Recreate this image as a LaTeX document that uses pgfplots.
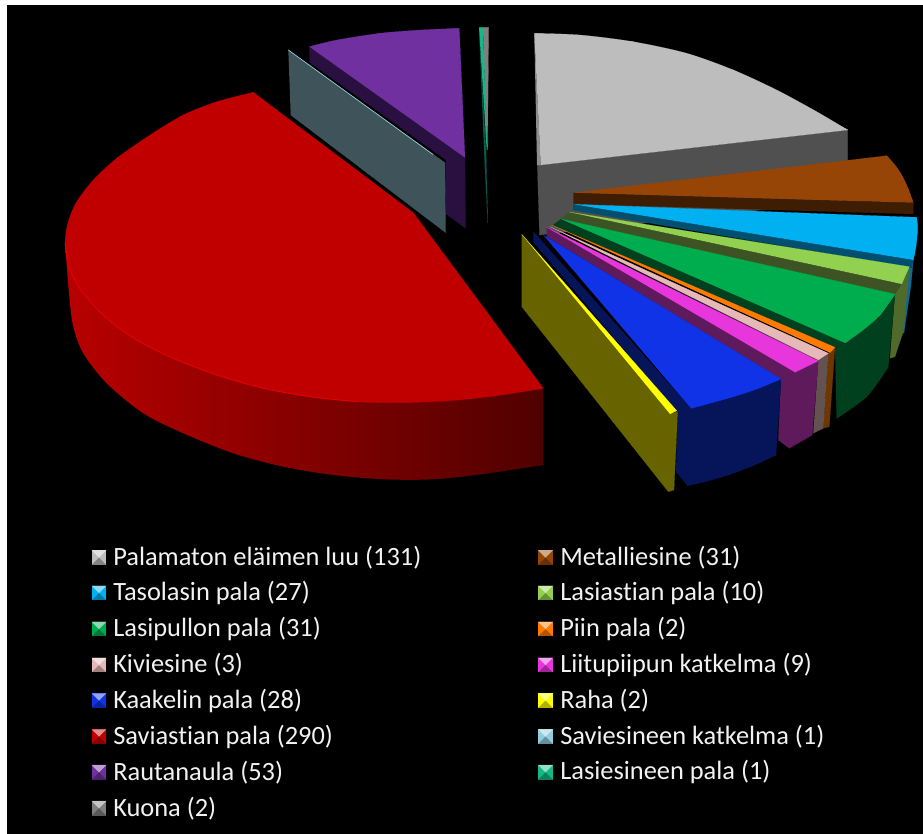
\documentclass[border=0pt]{standalone}
\usepackage{fontspec}
\setmainfont[Ligatures=NoCommon]{Carlito}
\usepackage{pgfplots}
\pgfplotsset{compat=1.18}

% all shapes are polygons in reference pixel coordinates
% \arccap fills a smoothed arc closed by its chord, the slice polygon goes on top of it
\newcommand\poly[2]{\addplot[fill=#1,draw=#1,line width=0.1pt,line join=round] coordinates {#2};}
\newcommand\arccap[2]{\addplot[smooth,fill=#1,draw=#1,line width=0.1pt] coordinates {#2};}
\newcommand\legtext[3]{\node[anchor=west,text=legtxt,inner sep=0pt,font=\fontsize{19.8}{22}\selectfont] at (axis cs:#1,#2) {#3};}
\newcommand\legkey[3]{\addplot[only marks,mark=bev,mark size=5.6pt,mark options={fill=#3,draw=none}] coordinates {(#1,#2)};}

\pgfdeclareplotmark{bev}{%
  \pgfpathrectangle{\pgfpoint{-\pgfplotmarksize}{-\pgfplotmarksize}}{\pgfpoint{2\pgfplotmarksize}{2\pgfplotmarksize}}%
  \pgfusepathqfill
  \begin{pgfscope}
    \pgfsetfillcolor{white}\pgfsetfillopacity{0.55}%
    \pgfpathmoveto{\pgfpoint{-\pgfplotmarksize}{\pgfplotmarksize}}%
    \pgfpathlineto{\pgfpoint{\pgfplotmarksize}{\pgfplotmarksize}}%
    \pgfpathlineto{\pgfpoint{0pt}{0pt}}\pgfpathclose
    \pgfusepathqfill
  \end{pgfscope}
  \begin{pgfscope}
    \pgfsetfillcolor{black}\pgfsetfillopacity{0.3}%
    \pgfpathmoveto{\pgfpoint{-\pgfplotmarksize}{-\pgfplotmarksize}}%
    \pgfpathlineto{\pgfpoint{\pgfplotmarksize}{-\pgfplotmarksize}}%
    \pgfpathlineto{\pgfpoint{0pt}{0pt}}\pgfpathclose
    \pgfusepathqfill
  \end{pgfscope}
}

\definecolor{legtxt}{HTML}{F2F2F2}
\definecolor{bone}{HTML}{BDBDBD}
\definecolor{boneside}{HTML}{505050}
\definecolor{bonefringe}{HTML}{8E8E8E}
\definecolor{metal}{HTML}{964506}
\definecolor{metalside}{HTML}{3F1D03}
\definecolor{taso}{HTML}{00B0F0}
\definecolor{tasoside}{HTML}{004F6E}
\definecolor{tasoout}{HTML}{0F6A94}
\definecolor{lasi}{HTML}{92D050}
\definecolor{lasiside}{HTML}{3E5323}
\definecolor{lasiout}{HTML}{4F6A2A}
\definecolor{pullo}{HTML}{00AD4E}
\definecolor{pulloside}{HTML}{00401E}
\definecolor{piin}{HTML}{FF7A00}
\definecolor{piinside}{HTML}{6E3600}
\definecolor{kivi}{HTML}{E6B9B8}
\definecolor{kiviside}{HTML}{63524F}
\definecolor{liitu}{HTML}{E636DC}
\definecolor{liituside}{HTML}{5E1A5A}
\definecolor{kaakeli}{HTML}{1033E8}
\definecolor{kaakeliside}{HTML}{06145A}
\definecolor{raha}{HTML}{FFFF00}
\definecolor{rahaside}{HTML}{676400}
\definecolor{savi}{HTML}{C00000}
\definecolor{saviline}{HTML}{E80000}
\definecolor{savisideL}{HTML}{B80000}
\definecolor{savisideR}{HTML}{500000}
\definecolor{saviesine}{HTML}{93CDDD}
\definecolor{saviesineside}{HTML}{3E545A}
\definecolor{rauta}{HTML}{7030A0}
\definecolor{rautaside}{HTML}{2A1040}
\definecolor{lasiesine}{HTML}{14B887}
\definecolor{lasiesineside}{HTML}{0A5C4A}
\definecolor{kuona}{HTML}{7F7F7F}

\begin{document}
\begin{tikzpicture}
\begin{axis}[
    scale only axis,
    width=692.25pt, height=624.75pt,
    xmin=0, xmax=923, ymin=0, ymax=833,
    y dir=reverse,
    hide axis,
]
% page and black panel
\poly{white}{(0,0) (923,0) (923,833) (0,833)}
\poly{black}{(7,5) (923,5) (923,833) (7,833)}

% Palamaton elaimen luu
\poly{boneside}{(540.7,165) (847.7,130) (847.7,200) (539.5,235) (537.3,165)}
\poly{bonefringe}{(534.3,33.3) (540.7,165) (537,165)}
\arccap{bone}{(534.3,33.3) (580,35) (633,41.7) (686.7,53.3) (733.3,70) (776.7,90) (816.7,111.7) (847.7,130)}
\poly{bone}{(534.3,33.3) (633,41.7) (733.3,70) (847.7,130) (540.7,165)}
% Metalliesine
\poly{metalside}{(573.3,192.7) (913.3,202.7) (913.3,214) (573.3,204)}
\arccap{metal}{(886.7,155.7) (895,165) (901.7,175) (908,188) (913.3,202.7)}
\poly{metal}{(573.3,192.7) (886.7,155.7) (901.7,175) (913.3,202.7)}
% Tasolasin pala
\poly{tasoout}{(913.3,260) (911,285) (904,333) (895,333) (895,270)}
\poly{tasoside}{(573.3,204) (913.3,260) (911.7,268) (572.7,210)}
\arccap{taso}{(916.7,217.3) (917.6,225) (917.3,233) (916,247) (913.3,260)}
\poly{taso}{(574,204.3) (916.7,217.3) (917.3,233) (913.3,260)}
% Lasiastian pala
\poly{lasiout}{(909.3,268) (903.3,331.7) (895,356.7) (890,358.3) (895,294) (901.7,284)}
\poly{lasiside}{(569,212) (901.7,284) (895,294) (561,219.3)}
\poly{lasi}{(569,212) (909.3,266.7) (901.7,284)}
% Lasipullon pala
\poly{pulloside}{(561,219) (845,343) (835,348.3) (552.7,225)}
\arccap{pulloside}{(888.3,366.7) (879,381) (866.7,396.7) (852,408) (836.7,418.3)}
\poly{pulloside}{(895,294) (888.3,366.7) (866.7,396.7) (836.7,418.3) (835,348.3) (845,343)}
\arccap{pullo}{(895,294) (880,315) (863,330) (845,343)}
\poly{pullo}{(561,219) (895,294) (880,315) (845,343)}
% Piin pala
\poly{piinside}{(835,347.3) (829.3,426.7) (823.3,428.3) (828.3,353)}
\poly{piin}{(551.7,225) (835,347.3) (830,352.7)}
% Kiviesine
\poly{kiviside}{(550,226.7) (828.3,353.3) (823.3,428.3) (813.3,433.3) (818.3,361)}
\poly{kivi}{(550,226.7) (828.3,353.3) (818.3,360)}
% Liitupiipun katkelma
\poly{liituside}{(546.7,227.3) (795,372.3) (781,379) (546.7,236.7)}
\poly{liituside}{(818.3,361) (812.3,435) (789.3,448.3) (778.3,440) (781,379) (795,372.3)}
\poly{liitu}{(546.7,227.3) (818.3,361) (795,372.3)}
% Kaakelin pala
\arccap{kaakeliside}{(776,455) (755,465) (733.3,473.3) (710,480.5) (687.7,485.7)}
\poly{kaakeliside}{(533.3,231.7) (691,408.3) (781,379) (776,455) (733.3,473.3) (687.7,485.7) (676,471.7) (677.7,413.3) (533.3,241.7)}
\arccap{kaakeli}{(781,379) (757,389) (733.3,396.7) (691,408.3)}
\poly{kaakeli}{(543.3,235) (781,379) (733.3,396.7) (691,408.3)}
% Raha
\poly{rahaside}{(521.7,234.3) (670,414) (677.7,411.7) (674,490) (668.3,491.7) (521.7,306.7)}
\poly{raha}{(521.7,234.3) (676.7,410.7) (670,414)}
% Saviastian pala: the straight end of the side runs under the top face
\addplot[smooth,draw=none,left color=savisideL,right color=savisideR] coordinates {(65,243.3) (69.3,296.7) (73.3,326.7) (83.3,353.3) (106.7,383.3) (143.3,413.3) (183.3,433.3) (233.3,453.3) (283.3,466.7) (333.3,475) (383.3,479.3) (433.3,479.3) (483.3,474) (543.3,465)} -- (axis cs:543.3,388.3) -- (axis cs:400,380) -- cycle;
\arccap{savi}{(543.3,388.3) (496.7,395.7) (450,400.7) (400,402.7) (356.7,401.7) (310,396.7) (263.3,388.3) (216.7,375) (173.3,358.3) (136.7,340) (106.7,318.3) (83.3,293.3) (70,270) (65,243.3) (68.3,221.7) (76.7,201.7) (93.3,180) (116.7,158.3) (150,135) (183.3,115) (216.7,101.7) (253.3,92.3)}
\poly{savi}{(253.3,92.3) (413.3,212.7) (543.3,388.3) (400,402.7) (263.3,388.3) (136.7,340) (65,243.3) (116.7,158.3) (183.3,115)}
\addplot[smooth,saviline,line width=0.6pt] coordinates {(65,243.3) (70,270) (83.3,293.3) (106.7,318.3) (136.7,340) (173.3,358.3) (216.7,375) (263.3,388.3) (310,396.7) (356.7,401.7)};
% Rautanaula
\poly{rautaside}{(309.3,46.7) (465,157.7) (465.7,228.3) (446,214) (446,160) (309.3,62)}
\arccap{rauta}{(309.3,46.7) (336.7,40) (380,33.3) (420,30) (459.3,28.3)}
\poly{rauta}{(309.3,46.7) (380,33.3) (459.3,28.3) (465,157.7)}
% Saviesineen katkelma
\poly{saviesineside}{(288.3,50) (445,162.7) (445.7,232.7) (290.7,115)}
\addplot[saviesine,line width=0.5pt] coordinates {(288.3,50) (433,154.5)};
% Kuona
\poly{kuona}{(483,27.3) (488.7,27.3) (487.5,150) (486,130)}
% Lasiesineen pala
\poly{lasiesineside}{(479,27.3) (486,150) (487.8,223) (484,150)}
\poly{lasiesine}{(479,27.3) (483,27.3) (487,150) (485.5,130)}

% legend
\legkey{99}{557.5}{bone}
\legkey{99}{593}{taso}
\legkey{99}{629}{pullo}
\legkey{99}{665}{kivi}
\legkey{99}{700.7}{kaakeli}
\legkey{99}{736.7}{savi}
\legkey{99}{772.3}{rauta}
\legkey{99}{808.3}{kuona}
\legkey{545.5}{557.5}{metal}
\legkey{545.5}{593}{lasi}
\legkey{545.5}{629}{piin}
\legkey{545.5}{665}{liitu}
\legkey{545.5}{700.7}{raha}
\legkey{545.5}{736.7}{saviesine}
\legkey{545.5}{772.3}{lasiesine}
\legtext{113}{557.5}{Palamaton eläimen luu (131)}
\legtext{113}{593}{Tasolasin pala (27)}
\legtext{113}{629}{Lasipullon pala (31)}
\legtext{113}{665}{Kiviesine (3)}
\legtext{113}{700.7}{Kaakelin pala (28)}
\legtext{113}{736.7}{Saviastian pala (290)}
\legtext{113}{772.3}{Rautanaula (53)}
\legtext{113}{808.3}{Kuona (2)}
\legtext{560}{557.5}{Metalliesine (31)}
\legtext{560}{593}{Lasiastian pala (10)}
\legtext{560}{629}{Piin pala (2)}
\legtext{560}{665}{Liitupiipun katkelma (9)}
\legtext{560}{700.7}{Raha (2)}
\legtext{560}{736.7}{Saviesineen katkelma (1)}
\legtext{560}{772.3}{Lasiesineen pala (1)}
\end{axis}
\end{tikzpicture}
\end{document}
